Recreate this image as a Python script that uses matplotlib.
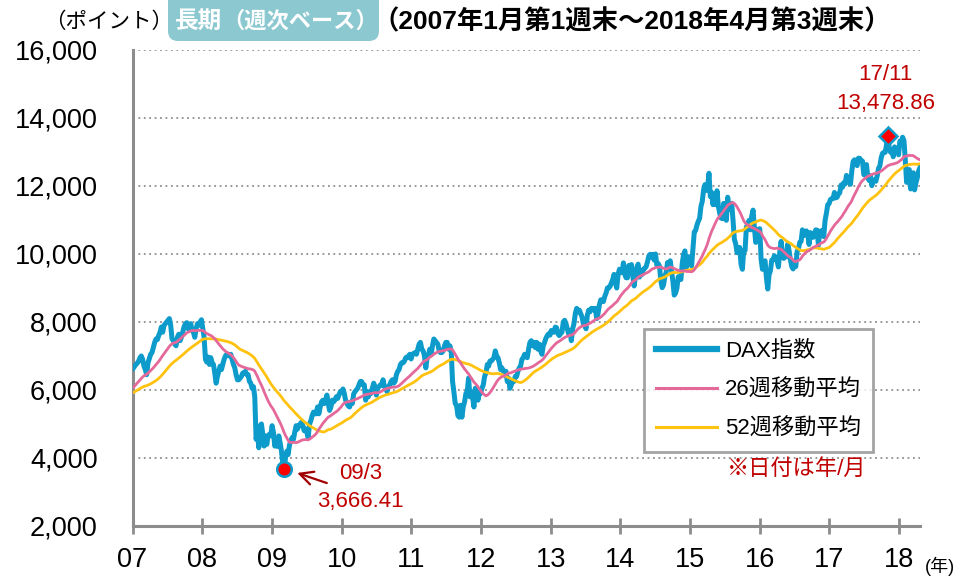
import numpy as np
import pandas as pd
import matplotlib
matplotlib.use('Agg')
import matplotlib.pyplot as plt
from matplotlib.patches import FancyBboxPatch
from matplotlib.lines import Line2D

plt.rcParams['font.family'] = ['Liberation Sans', 'Noto Sans CJK JP', 'DejaVu Sans']

# weekly closes (friday). 2006 only warms up the moving averages, it is not drawn
dax_2006 = [5450, 5480, 5500, 5560, 5620, 5680, 5720, 5800, 5850, 5900,
            5950, 5990, 5960, 6000, 6030, 6010, 6080, 6120, 6050, 5800,
            5700, 5650, 5550, 5400, 5320, 5600, 5650, 5700, 5620, 5550,
            5680, 5800, 5760, 5850, 5880, 5900, 5950, 5900, 5990, 6050,
            6100, 6160, 6200, 6240, 6300, 6330, 6280, 6250, 6350, 6420,
            6520, 6597]
dax_2007 = [6640, 6700, 6750, 6790, 6850, 6950, 7000, 6900, 6700, 6600, 6450, 6800, 6920,
            7050, 7100, 7250, 7400, 7500, 7480, 7600, 7700, 7850, 7700, 7900, 7950, 8000,
            8050, 8100, 7900, 7500, 7450, 7350, 7300, 7550, 7640, 7450, 7550, 7700, 7860,
            7950, 7980, 7800, 7850, 7950, 7750, 7700, 7550, 7800, 7950, 7900, 8000, 8067]
dax_2008 = [7800, 7550, 6900, 6820, 6970, 6750, 6950, 6800, 6750, 6500, 6200, 6400, 6550,
            6700, 6600, 6750, 6900, 7000, 7050, 7050, 7000, 7050, 6900, 6750, 6650, 6450,
            6300, 6300, 6350, 6400, 6500, 6500, 6550, 6450, 6450, 6250, 6200, 6050, 6100,
            5800, 4550, 4800, 4300, 4950, 5000, 4700, 4350, 4650, 4400, 4650, 4700, 4650]
dax_2009 = [4950, 4750, 4350, 4450, 4340, 4650, 4450, 4200, 3843, 3666.41, 4000, 4200, 4100,
            4380, 4500, 4600, 4550, 4770, 4950, 4850, 4950, 5000, 5050, 4950, 4800, 4850,
            4750, 4600, 5000, 5100, 5250, 5350, 5300, 5300, 5500, 5300, 5500, 5650, 5700,
            5600, 5700, 5850, 5600, 5400, 5500, 5700, 5650, 5700, 5800, 5750, 5850, 5950]
dax_2010 = [5957, 6030, 5900, 5700, 5610, 5530, 5500, 5650, 5600, 5880, 5950, 6000, 6050,
            6150, 6250, 6250, 6150, 6150, 5700, 5950, 5800, 5950, 5900, 6050, 6200, 6100,
            5850, 6050, 6100, 6150, 6150, 6300, 6100, 6050, 5950, 6100, 6150, 6250, 6300,
            6200, 6250, 6450, 6550, 6600, 6750, 6800, 6800, 6850, 6950, 6950, 7000, 7050, 6914]
dax_2011 = [7050, 7080, 7100, 7050, 7200, 7350, 7400, 7200, 7150, 7000, 6650, 6950,
            7050, 7200, 7050, 7300, 7500, 7450, 7400, 7350, 7150, 7100, 7100, 7150, 7300,
            7400, 7400, 7200, 7300, 7150, 6250, 5950, 5600, 5550, 5250, 5200, 5550, 5200, 5500,
            5650, 5900, 5950, 6350, 5800, 5950, 5800, 5500, 6050, 5950, 5700, 5900, 5898]
dax_2012 = [6050, 6150, 6400, 6500, 6750, 6700, 6850, 6850, 6900, 6950, 7150, 7000, 6950,
            6800, 6600, 6650, 6550, 6550, 6550, 6250, 6350, 6050, 6150, 6250, 6250, 6400,
            6400, 6550, 6650, 6700, 6900, 6950, 7050, 7000, 6950, 7200, 7400, 7450, 7300,
            7400, 7250, 7400, 7200, 7350, 7150, 7050, 7300, 7400, 7520, 7600, 7650, 7612]
dax_2013 = [7750, 7700, 7700, 7850, 7830, 7650, 7600, 7660, 7700, 8000, 8050, 7950, 7800,
            7650, 7750, 7450, 7800, 7950, 8250, 8400, 8300, 8350, 8250, 8150, 7950, 7950,
            7800, 8200, 8350, 8300, 8400, 8400, 8350, 8400, 8100, 8250, 8500, 8650, 8650,
            8600, 8750, 8850, 9000, 9000, 9050, 9150, 9250, 9400, 9150, 9000, 9400, 9552]
dax_2014 = [9450, 9470, 9740, 9400, 9300, 9300, 9660, 9650, 9690, 9350, 9060, 9340, 9590,
            9700, 9320, 9410, 9400, 9560, 9580, 9630, 9770, 9940, 9990, 9910, 9990, 9820,
            10000, 9670, 9720, 9640, 9210, 9010, 9090, 9340, 9470, 9750, 9650, 9800, 9490,
            9200, 8790, 8850, 8990, 9330, 9290, 9250, 9730, 9980, 10090, 9600, 9790, 9920]
dax_2015 = [9806, 9650, 10170, 10650, 10690, 10850, 10960, 11050, 11400, 11550, 11900, 12040, 11870,
            11970, 12375, 11690, 11810, 11450, 11710, 11450, 11860, 11410, 11200, 11060, 11040, 11490,
            11100, 10990, 11670, 11350, 11310, 11490, 10990, 10430, 10300, 10040, 10120, 10190, 9690,
            9550, 10100, 10100, 10800, 10850, 10990, 10710, 11120, 11290, 10750, 10340, 10610, 10730]
dax_2016 = [10743, 9850, 9550, 9760, 9800, 9290, 8970, 9390, 9510, 9820, 9830, 9950, 9850,
            9790, 9620, 10050, 10370, 10040, 9870, 9950, 9920, 10290, 10100, 9830, 9630, 9560,
            9780, 9630, 10070, 10150, 10340, 10370, 10710, 10540, 10590, 10680, 10570, 10280, 10630, 10510,
            10490, 10580, 10710, 10700, 10260, 10670, 10660, 10700, 10510, 10990, 11200, 11450, 11480]
dax_2017 = [11600, 11630, 11630, 11810, 11650, 11670, 11760, 11800, 12030, 11960, 12100, 12060, 12310,
            12230, 12110, 12050, 12440, 12720, 12770, 12640, 12600, 12820, 12810, 12750, 12730, 12330,
            12390, 12630, 12240, 12160, 12300, 12010, 12170, 12170, 12140, 12300, 12520, 12590, 12830,
            12960, 12990, 12990, 13220, 13478.86, 13130, 12990, 13060, 12860, 13150, 13100, 13110, 12918]
dax_2018 = [13320, 13245, 13434, 13340, 12785, 12107, 12452, 12483,
            11913, 12346, 12390, 11886, 12097, 12241, 12442, 12540]

year_labels = ['07', '08', '09', '10', '11', '12', '13', '14', '15', '16', '17', '18']
ytick_vals = [2000, 4000, 6000, 8000, 10000, 12000, 14000, 16000]
ytick_labels = ['2,000', '4,000', '6,000', '8,000', '10,000', '12,000', '14,000', '16,000']
series_names = ['DAX指数', '26週移動平均', '52週移動平均']
low_text = ['09/3', '3,666.41']
high_text = ['17/11', '13,478.86']

c_dax = '#0C9BCA'
c_26 = '#E5689B'
c_52 = '#FFC20E'
c_red = '#C00000'
c_axis = '#8C8C8C'

dax = (dax_2007 + dax_2008 + dax_2009 + dax_2010 + dax_2011 + dax_2012 +
       dax_2013 + dax_2014 + dax_2015 + dax_2016 + dax_2017 + dax_2018)
full = pd.Series(dax_2006 + dax)
ma26 = full.rolling(26).mean().iloc[len(dax_2006):].to_numpy()
ma52 = full.rolling(52).mean().iloc[len(dax_2006):].to_numpy()
dax = np.array(dax)

dates = pd.date_range('2007-01-05', periods=len(dax), freq='7D')
x = dates.year + (dates.dayofyear - 1) / np.where(dates.is_leap_year, 366.0, 365.0)

fig = plt.figure(figsize=(9.61, 5.78), dpi=100)
ax = fig.add_axes([0.1379, 0.09, 0.8195, 0.8235])

ax.plot(x, dax, color=c_dax, lw=3.6, solid_joinstyle='round', zorder=3)
ax.plot(x, ma52, color=c_52, lw=2.0, zorder=4)
ax.plot(x, ma26, color=c_26, lw=2.0, zorder=5)

i_lo = int(np.argmin(dax))
i_hi = int(np.argmax(dax))
ax.plot(x[i_lo], dax[i_lo], 'o', ms=10.5, mfc='#FF0000', mec=c_dax, mew=1.8, zorder=6)
ax.plot(x[i_hi], dax[i_hi], 'D', ms=9, mfc='#FF0000', mec=c_dax, mew=1.8, zorder=6)

ax.text(x[i_lo] + 1.1, dax[i_lo] - 110, low_text[0], color=c_red, fontsize=16, ha='center', va='center')
ax.text(x[i_lo] + 1.1, dax[i_lo] - 960, low_text[1], color=c_red, fontsize=16, ha='center', va='center')
ax.annotate('', xy=(x[i_lo] + 0.15, dax[i_lo] - 80), xytext=(x[i_lo] + 0.65, dax[i_lo] - 430),
            arrowprops=dict(arrowstyle='->', color='#A00000', lw=1.6, mutation_scale=24))
ax.text(x[i_hi] - 0.03, dax[i_hi] + 1790, high_text[0], color=c_red, fontsize=16, ha='center', va='center')
ax.text(x[i_hi] - 0.03, dax[i_hi] + 960, high_text[1], color=c_red, fontsize=16, ha='center', va='center')

ax.set_xlim(2007.0, 2018.30)
ax.set_ylim(2000, 16000)
ax.set_xticks(range(2007, 2019))
ax.set_xticklabels(year_labels)
ax.set_yticks(ytick_vals)
ax.set_yticklabels(ytick_labels)
ax.grid(axis='y', ls=(0, (1, 2)), color='#8F8F8F', lw=1.3)
ax.set_axisbelow(True)
for side in ['top', 'right']:
    ax.spines[side].set_visible(False)
for side in ['left', 'bottom']:
    ax.spines[side].set_color(c_axis)
    ax.spines[side].set_linewidth(2.2)
ax.tick_params(axis='y', length=0, pad=25, labelsize=19.5)
ax.tick_params(axis='x', direction='inout', length=12, width=2, color=c_axis, pad=9, labelsize=19.5)

handles = [Line2D([], [], color=c_dax, lw=4.5),
           Line2D([], [], color=c_26, lw=2.2),
           Line2D([], [], color=c_52, lw=2.2)]
leg = ax.legend(handles, series_names, loc='upper left', bbox_to_anchor=(0.6495, 0.414),
                fontsize=16, frameon=True, fancybox=False, handlelength=2.75,
                handletextpad=0.35, labelspacing=0.8, borderpad=0.55, borderaxespad=0)
leg.get_frame().set_edgecolor('#8C8C8C')
leg.get_frame().set_linewidth(2)

fig.text(727 / 961, 1 - 469 / 578, '※日付は年/月', color=c_red, fontsize=16, ha='left', va='center')

# header
fig.text(44 / 961, 1 - 22 / 578, '（ポイント）', fontsize=15.5, ha='left', va='center')
box = FancyBboxPatch((168, 578 - 41), 211, 60, boxstyle='round,pad=0,rounding_size=10',
                     transform=None, facecolor='#8CC8D0', edgecolor='none')
fig.patches.append(box)
fig.text(175 / 961, 1 - 21 / 578, '長期', fontsize=17, weight='bold', color='white', ha='left', va='center')
fig.text(222 / 961, 1 - 22 / 578, '（週次ベース）', fontsize=16, weight='bold', color='white', ha='left', va='center')
fig.text(372 / 961, 1 - 22 / 578, '（2007年1月第1週末～2018年4月第3週末）', fontsize=19, weight='bold',
         ha='left', va='center')
fig.text(925 / 961, 1 - 566 / 578, '(年)', fontsize=13, ha='left', va='center')

fig.savefig('out.png', dpi=100)
